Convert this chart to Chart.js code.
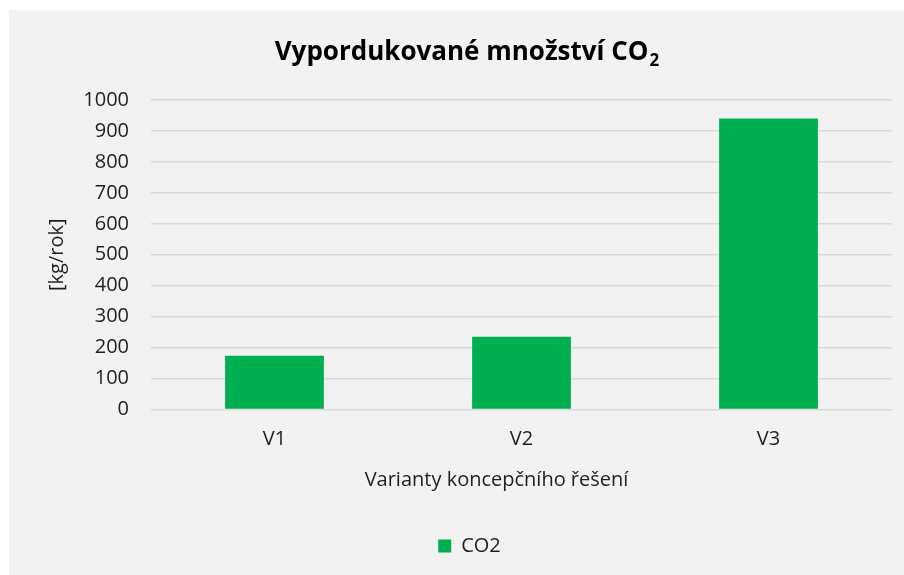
<!DOCTYPE html>
<html>
<head>
<meta charset="utf-8">
<script src="https://cdn.jsdelivr.net/npm/chart.js@4/dist/chart.umd.min.js"></script>
<style>
  html, body { margin: 0; padding: 0; background: #ffffff; }
  body { width: 904px; height: 575px; position: relative; overflow: hidden; }
  #panel { position: absolute; left: 9px; top: 10px; width: 895px; height: 565px; background: #f2f2f2; }
  canvas { display: block; }
</style>
</head>
<body>
<div id="panel"><canvas id="c" width="895" height="565"></canvas></div>
<script>
// Data
const categories = ['V1', 'V2', 'V3'];
const co2Values = [174, 235, 940];
const yTicks = [0, 100, 200, 300, 400, 500, 600, 700, 800, 900, 1000];

const FONT = '"Open Sans", "Noto Sans", sans-serif';
const TEXT = '#1f1f1f';

// Chart title with a subscript "2" plus the category axis title
const textPlugin = {
  id: 'texts',
  afterDraw(chart) {
    const ctx = chart.ctx;
    const cx = chart.width / 2;
    ctx.save();
    ctx.fillStyle = '#000000';
    ctx.textBaseline = 'middle';
    const main = 'Vypordukované množství CO';
    const sub = '2';
    ctx.font = 'bold 26px ' + FONT;
    const wMain = ctx.measureText(main).width;
    ctx.font = 'bold 17px ' + FONT;
    const wSub = ctx.measureText(sub).width;
    let x = cx + 10 - (wMain + wSub) / 2;
    const y = 43;
    ctx.textAlign = 'left';
    ctx.font = 'bold 26px ' + FONT;
    ctx.fillText(main, x, y);
    ctx.font = 'bold 17px ' + FONT;
    ctx.fillText(sub, x + wMain + 1, y + 8);

    ctx.fillStyle = TEXT;
    ctx.font = '20px ' + FONT;
    ctx.textAlign = 'center';
    ctx.fillText('Varianty koncepčního řešení', cx + 40, 470);
    ctx.restore();
  }
};

new Chart(document.getElementById('c'), {
  type: 'bar',
  data: {
    labels: categories,
    datasets: [{
      label: 'CO2',
      data: co2Values,
      backgroundColor: '#00b050',
      borderWidth: 0,
      barPercentage: 0.4,
      categoryPercentage: 1.0
    }]
  },
  options: {
    responsive: false,
    animation: false,
    devicePixelRatio: 1,
    layout: { padding: { top: 90, right: 12, bottom: 9, left: 38 } },
    plugins: {
      title: { display: false },
      tooltip: { enabled: false },
      legend: {
        display: true,
        position: 'bottom',
        labels: {
          boxWidth: 13,
          boxHeight: 13,
          padding: 8,
          color: TEXT,
          font: { family: FONT, size: 20 }
        }
      }
    },
    scales: {
      x: {
        grid: { display: false },
        border: { display: false },
        ticks: { color: TEXT, padding: 10, font: { family: FONT, size: 20 } },
        afterFit(scale) { scale.height = 118.5; }
      },
      y: {
        min: 0,
        max: 1000,
        afterBuildTicks(scale) { scale.ticks = yTicks.map(v => ({ value: v })); },
        grid: { color: '#d9d9d9', lineWidth: 1.5, drawTicks: false },
        border: { display: false },
        ticks: {
          color: TEXT,
          padding: 22,
          font: { family: FONT, size: 20 },
          callback: (v) => String(v)
        },
        title: {
          display: true,
          text: '[kg/rok]',
          color: TEXT,
          font: { family: FONT, size: 20, lineHeight: 1 },
          padding: { top: 0, bottom: 0 }
        },
        afterFit(scale) { scale.width = 104; }
      }
    }
  },
  plugins: [textPlugin]
});
</script>
</body>
</html>
